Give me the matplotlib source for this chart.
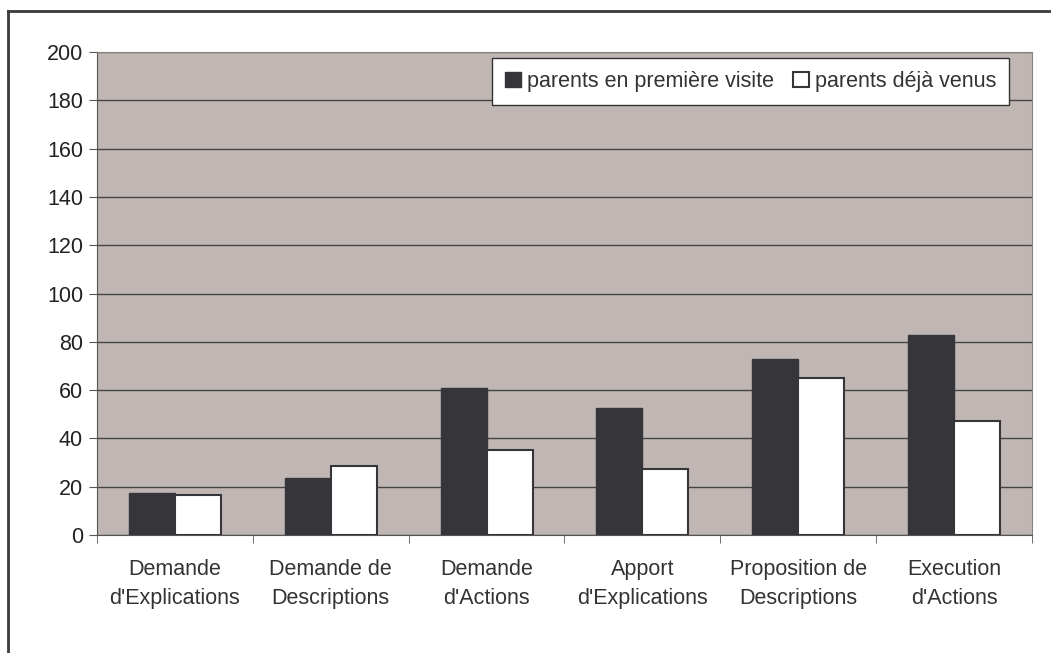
import numpy as np
import matplotlib
matplotlib.use('Agg')
import matplotlib.pyplot as plt
from matplotlib.lines import Line2D

categories = ["Demande\nd'Explications", "Demande de\nDescriptions", "Demande\nd'Actions",
              "Apport\nd'Explications", "Proposition de\nDescriptions", "Execution\nd'Actions"]
premiere = [17.5, 23.5, 61, 52.5, 73, 83]
deja = [16.5, 28.5, 35, 27.5, 65, 47]
labels = ['parents en première visite', 'parents déjà venus']

plt.rcParams['font.family'] = ['Liberation Sans', 'DejaVu Sans']

fig = plt.figure(figsize=(10.51, 6.53), dpi=100)
ax = fig.add_axes([97 / 1051, 1 - 535 / 653, (1032 - 97) / 1051, (535 - 52) / 653])

x = np.arange(len(categories))
w = 0.295
ax.set_facecolor('#c0b7b4')
ax.bar(x - w / 2, premiere, w, color='#36353a', edgecolor='#36353a', linewidth=1, label=labels[0], zorder=3)
ax.bar(x + w / 2, deja, w, color='white', edgecolor='#36353a', linewidth=1.5, label=labels[1], zorder=3)

ax.set_ylim(0, 200)
ax.set_yticks(range(0, 201, 20))
ax.set_xlim(-0.5, len(categories) - 0.5)
ax.set_xticks(np.arange(len(categories) + 1) - 0.5, minor=True)
ax.set_xticks(x)
ax.set_xticklabels(categories, color='#333333', fontsize=15.5, linespacing=1.55)
ax.tick_params(axis='x', which='major', length=0, pad=17)
ax.tick_params(axis='x', which='minor', length=6, color='#555555')
ax.tick_params(axis='y', length=6, color='#555555', labelsize=15.5, labelcolor='#222222', pad=4)
ax.yaxis.grid(True, color='#444444', linewidth=1)
ax.set_axisbelow(True)
for s in ['top', 'right']:
    ax.spines[s].set_color('#8a8280')
for s in ['left', 'bottom']:
    ax.spines[s].set_color('#555555')

leg = ax.legend(loc='upper right', bbox_to_anchor=(0.9754, 0.9876), ncol=2, fontsize=15.5,
                frameon=True, fancybox=False, framealpha=1, edgecolor='#333333',
                handlelength=0.75, handleheight=0.75, handletextpad=0.25,
                columnspacing=0.9, borderpad=0.6, borderaxespad=0)
leg.get_frame().set_linewidth(1)
for t in leg.get_texts():
    t.set_color('#333333')

# outer chart frame
fig.add_artist(Line2D([8 / 1051, 8 / 1051], [0, 1 - 11 / 653], color='#3a3a3a', linewidth=2))
fig.add_artist(Line2D([8 / 1051, 1], [1 - 11 / 653, 1 - 11 / 653], color='#3a3a3a', linewidth=2))

fig.savefig('out.png', dpi=100)
